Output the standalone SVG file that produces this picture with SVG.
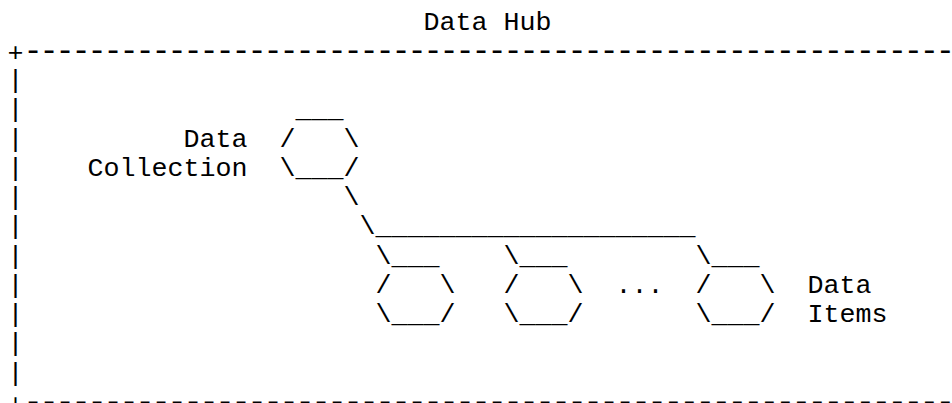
<svg xmlns="http://www.w3.org/2000/svg" width="952" height="403" viewBox="0 0 952 403" xml:space="preserve">
  <style>
    .t { font-family: "Liberation Mono", "Courier New", monospace; font-size: 26.67px; fill: #000; white-space: pre; }
    /* slightly longer dashes kept on the same 16px pitch as the grid */
    .rule { font-family: "Liberation Mono", "Courier New", monospace; font-size: 32px; letter-spacing: -3.2px; fill: #000; white-space: pre; }
  </style>
  <rect width="952" height="403" fill="#fff"/>

  <!-- Frame: title, borders (monospace grid: col x = 7.5 + 16*c, row baseline = 29.5 + 29.25*r) -->
  <g id="data-hub">
    <text class="t" x="423.5" y="29.5">Data Hub</text>
    <text class="t" x="7.5" y="60.5">+</text>
    <text class="rule" x="23.5" y="60">----------------------------------------------------------</text>
    <text class="t" x="7.5" y="88">|</text>
    <text class="t" x="7.5" y="117.25">|</text>
    <text class="t" x="7.5" y="146.5">|</text>
    <text class="t" x="7.5" y="175.75">|</text>
    <text class="t" x="7.5" y="205">|</text>
    <text class="t" x="7.5" y="234.25">|</text>
    <text class="t" x="7.5" y="263.5">|</text>
    <text class="t" x="7.5" y="292.75">|</text>
    <text class="t" x="7.5" y="322">|</text>
    <text class="t" x="7.5" y="351.25">|</text>
    <text class="t" x="7.5" y="380.5">|</text>
    <text class="t" x="7.5" y="411.5">+</text>
    <text class="rule" x="23.5" y="411">----------------------------------------------------------</text>
  </g>

  <!-- Collection hexagon with its label -->
  <g id="data-collection">
    <text class="t" x="295.5" y="117.25">___</text>
    <text class="t" x="183.5" y="146.5">Data</text>
    <text class="t" x="279.5" y="146.5">/   \</text>
    <text class="t" x="87.5" y="175.75">Collection</text>
    <text class="t" x="279.5" y="175.75">\___/</text>
  </g>

  <!-- Links from the collection down to the items -->
  <g id="connectors">
    <text class="t" x="343.5" y="205">\</text>
    <text class="t" x="359.5" y="234.25">\____________________</text>
    <text class="t" x="375.5" y="263.5">\</text>
    <text class="t" x="503.5" y="263.5">\</text>
    <text class="t" x="695.5" y="263.5">\</text>
  </g>

  <g id="item-1">
    <text class="t" x="391.5" y="263.5">___</text>
    <text class="t" x="375.5" y="292.75">/   \</text>
    <text class="t" x="375.5" y="322">\___/</text>
  </g>

  <g id="item-2">
    <text class="t" x="519.5" y="263.5">___</text>
    <text class="t" x="503.5" y="292.75">/   \</text>
    <text class="t" x="503.5" y="322">\___/</text>
  </g>

  <g id="ellipsis">
    <text class="t" x="615.5" y="292.75">...</text>
  </g>

  <g id="item-n">
    <text class="t" x="711.5" y="263.5">___</text>
    <text class="t" x="695.5" y="292.75">/   \</text>
    <text class="t" x="695.5" y="322">\___/</text>
  </g>

  <g id="data-items-label">
    <text class="t" x="807.5" y="292.75">Data</text>
    <text class="t" x="807.5" y="322">Items</text>
  </g>
</svg>
